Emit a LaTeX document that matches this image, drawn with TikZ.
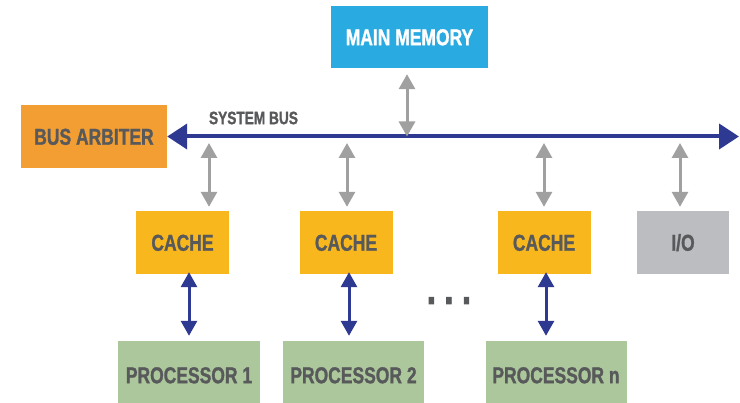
\documentclass[tikz,border=0pt]{standalone}
\usepackage{fontspec}
\setmainfont[FakeStretch=0.76, BoldFeatures={FakeBold=1.2}]{Liberation Sans}
\usetikzlibrary{arrows.meta,calc}

\definecolor{memblue}{RGB}{41,171,226}
\definecolor{arborange}{RGB}{242,158,51}
\definecolor{cacheyellow}{RGB}{248,183,29}
\definecolor{iogray}{RGB}{188,189,192}
\definecolor{procgreen}{RGB}{171,199,155}
\definecolor{busblue}{RGB}{46,57,145}
\definecolor{linkgray}{RGB}{160,160,160}
\definecolor{textgray}{RGB}{88,89,91}

\begin{document}
\begin{tikzpicture}[x=1pt,y=-1pt,
          unit/.style={rectangle,
              inner sep=0pt,
              minimum width=93pt,
              minimum height=63pt,
              text=textgray,
              text height=16.5pt,
              text depth=0pt,
              font=\fontsize{23}{23}\selectfont\bfseries},
          cache/.style={unit, fill=cacheyellow},
          proc/.style={unit, fill=procgreen, minimum height=68pt},
          sysbus/.style={draw=busblue, line width=4pt,
              {Triangle[length=20pt,width=25pt]}-{Triangle[length=20pt,width=25pt]}},
          graylink/.style={draw=linkgray, line width=3pt,
              {Triangle[length=15pt,width=16pt]}-{Triangle[length=15pt,width=16pt]}},
          bluelink/.style={draw=busblue, line width=3pt,
              {Triangle[length=15pt,width=16pt]}-{Triangle[length=15pt,width=16pt]}},
        ]
        \useasboundingbox (0,0) rectangle (740,403);

        \node[unit, fill=memblue, text=white, minimum width=157pt, minimum height=62pt] (mem) at (409.5,37) {MAIN MEMORY};
        \node[unit, fill=arborange, minimum width=146pt] (arb) at (94,136.5) {BUS ARBITER};
        \coordinate (busend) at (739,136.5);
        \node[text=textgray, font=\fontsize{18}{18}\selectfont\bfseries] (buslabel) at (253.5,118) {SYSTEM BUS};

        \node[cache] (c1) at (182.5,242.5) {CACHE};
        \node[cache] (c2) at (346,242.5) {CACHE};
        \node[cache] (c3) at (544,242.5) {CACHE};
        \node[unit, fill=iogray, minimum width=92pt] (io) at (683,242.5) {I/O};

        \node[proc, minimum width=142pt] (p1) at (189,375) {PROCESSOR 1};
        \node[proc, minimum width=141pt] (p2) at (353.5,375) {PROCESSOR 2};
        \node[proc, minimum width=141pt] (p3) at (556,375) {PROCESSOR n};
        \node[anchor=base, text=textgray, font=\fontsize{46}{46}\selectfont\bfseries] (dots) at (449,304) {.\hspace{7.8pt}.\hspace{7.8pt}.};

        \draw[sysbus] (arb.east) -- (busend);

        \draw[graylink] ($(mem.south)+(-2.5,6)$) -- ($(mem.south |- arb.east)+(-2.5,0)$);
        \draw[graylink] ($(c1.north |- arb.east)+(26.5,6.5)$) -- ($(c1.north)+(26.5,-4)$);
        \draw[graylink] ($(c2.north |- arb.east)+(1,6.5)$) -- ($(c2.north)+(1,-4)$);
        \draw[graylink] ($(c3.north |- arb.east)+(0,6.5)$) -- ($(c3.north)+(0,-4)$);
        \draw[graylink] ($(io.north |- arb.east)+(-3,6.5)$) -- ($(io.north)+(-3,-4)$);

        \draw[bluelink] ($(c1.south)+(6.5,-2)$) -- ($(c1.south |- p1.north)+(6.5,-5)$);
        \draw[bluelink] ($(c2.south)+(3,-2)$) -- ($(c2.south |- p2.north)+(3,-5)$);
        \draw[bluelink] ($(c3.south)+(2,-2)$) -- ($(c3.south |- p3.north)+(2,-5)$);
      \end{tikzpicture}
\end{document}
